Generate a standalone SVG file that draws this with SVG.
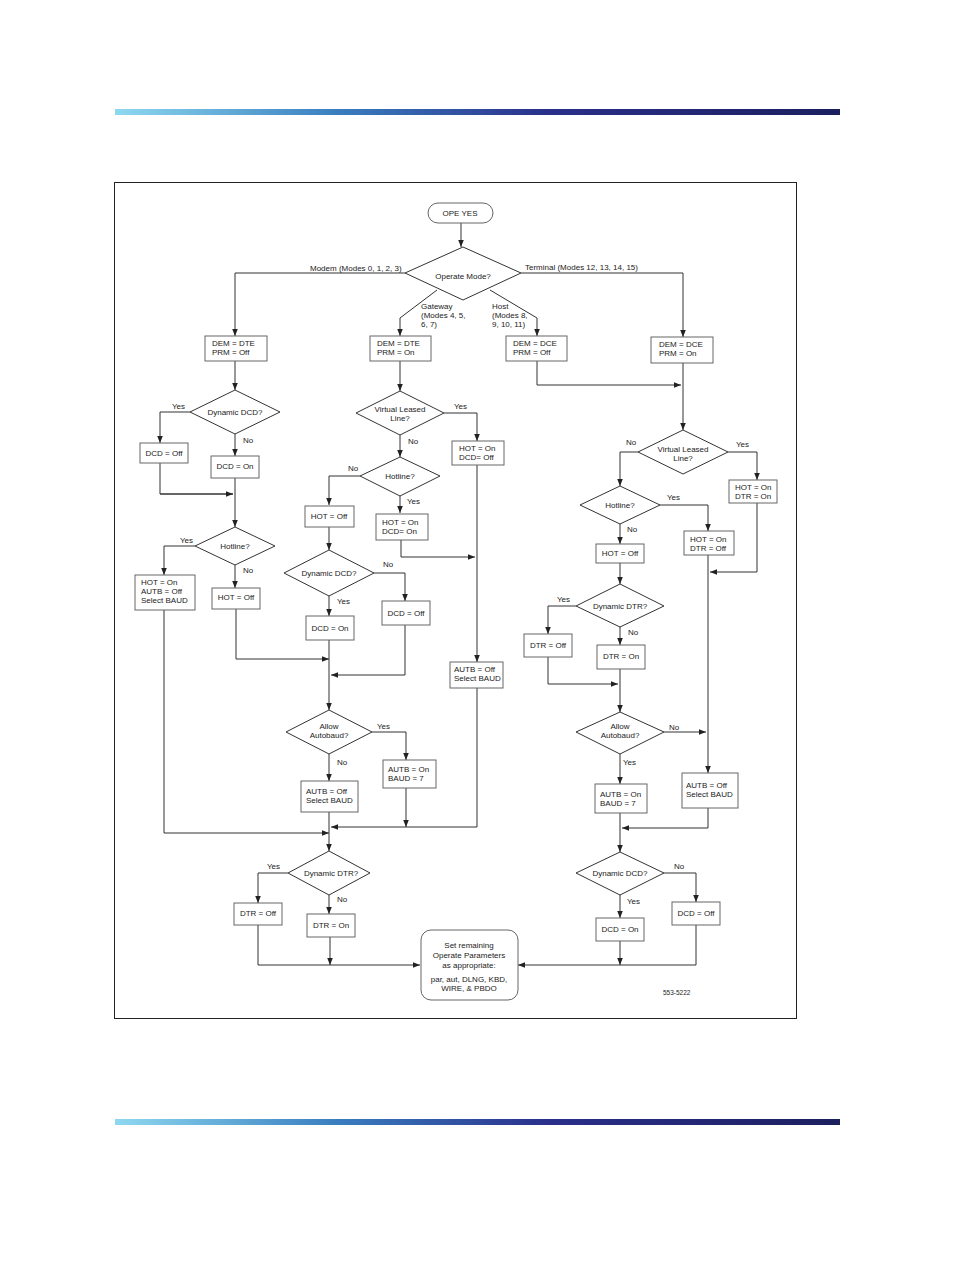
<svg xmlns="http://www.w3.org/2000/svg" width="954" height="1272" viewBox="0 0 954 1272">
<defs>
<linearGradient id="bar" x1="0" x2="1" y1="0" y2="0">
<stop offset="0" stop-color="#8fd8f0"/><stop offset="0.3" stop-color="#3a7fc0"/><stop offset="0.6" stop-color="#2a2f8a"/><stop offset="1" stop-color="#1c1f5e"/>
</linearGradient>
<marker id="ah" viewBox="0 0 10 10" refX="10" refY="5" markerWidth="7" markerHeight="7" orient="auto" markerUnits="userSpaceOnUse"><path d="M0,1 L10,5 L0,9 z" fill="#222"/></marker>
</defs>
<style>
text{font-family:"Liberation Sans",Arial,sans-serif;font-size:8px;fill:#222}
.c{text-anchor:middle}
.b{fill:#fff;stroke:#666;stroke-width:1}
.d{fill:#fff;stroke:#333;stroke-width:1}
#connectors path{fill:none;stroke:#333;stroke-width:1;marker-end:url(#ah)}
#connectors path.n{marker-end:none}
</style>
<rect x="0" y="0" width="954" height="1272" fill="#fff"/>
<rect x="115" y="109" width="725" height="6" fill="url(#bar)"/>
<rect x="115" y="1119" width="725" height="6" fill="url(#bar)"/>
<rect x="114.5" y="182.5" width="682" height="836" fill="none" stroke="#222" stroke-width="1"/>

<g id="connectors">
<path d="M461,223 V247"/>
<path d="M405,273 H235 V336"/>
<path d="M521,273 H683 V337"/>
<path d="M437,290 L400,318 V336"/>
<path d="M490,290 L537,318 V336"/>
<path d="M235,361 V390"/>
<path d="M400,361 V391"/>
<path d="M537,361 V385 H681"/>
<path d="M683,363 V430"/>
<!-- left -->
<path d="M190,412 H160 V443"/>
<path d="M235,434 V456"/>
<path class="n" d="M160,463 V494 H233"/>
<path d="M160,494 H233"/>
<path d="M235,478 V527"/>
<path d="M195,546 H164 V575"/>
<path d="M235,565 V588"/>
<path d="M236,609 V659 H329"/>
<path d="M164,610 V833 H329"/>
<!-- middle -->
<path d="M444,413 H477 V441"/>
<path d="M400,435 V457"/>
<path d="M360,476 H329 V505"/>
<path d="M400,496 V513"/>
<path d="M401,540 V557 H475"/>
<path d="M329,527 V550"/>
<path d="M374,573 H405 V601"/>
<path d="M329,596 V616"/>
<path d="M405,625 V675 H331"/>
<path d="M329,640 V710"/>
<path d="M372,732 H406 V760"/>
<path d="M329,754 V781"/>
<path d="M406,788 V827"/>
<path d="M477,465 V662"/>
<path d="M477,688 V827 H331"/>
<path d="M329,812 V851"/>
<path d="M288,873 H258 V903"/>
<path d="M329,895 V914"/>
<path d="M258,925 V965 H420"/>
<path d="M330,937 V965"/>
<!-- right -->
<path d="M638,452 H620 V486"/>
<path d="M728,452 H757 V480"/>
<path d="M660,505 H708 V531"/>
<path d="M620,524 V544"/>
<path d="M757,503 V572 H710"/>
<path d="M620,563 V584"/>
<path d="M576,606 H548 V634"/>
<path d="M620,627 V645"/>
<path d="M548,657 V684 H618"/>
<path d="M620,669 V712"/>
<path d="M664,732 H706"/>
<path d="M708,555 V773"/>
<path d="M620,754 V784"/>
<path d="M708,808 V828 H622"/>
<path d="M620,813 V852"/>
<path d="M664,873 H696 V902"/>
<path d="M620,895 V918"/>
<path d="M696,925 V965 H518"/>
<path d="M620,941 V965"/>
</g>

<g id="ope"><rect class="b" x="428" y="203" width="65" height="20" rx="10"/><text class="c" x="460" y="216">OPE YES</text></g>
<g id="mode"><polygon class="d" points="463,247 521,273 463,300 405,273"/><text class="c" x="463" y="279">Operate Mode?</text></g>
<g id="lbl-top">
<text x="310" y="271">Modem (Modes 0, 1, 2, 3)</text>
<text x="525" y="270">Terminal (Modes 12, 13, 14, 15)</text>
<text x="421" y="309">Gateway</text><text x="421" y="318">(Modes 4, 5,</text><text x="421" y="327">6, 7)</text>
<text x="492" y="309">Host</text><text x="492" y="318">(Modes 8,</text><text x="492" y="327">9, 10, 11)</text>
</g>
<g id="b1"><rect class="b" x="205" y="336" width="62" height="25"/><text x="212" y="346">DEM = DTE</text><text x="212" y="355">PRM = Off</text></g>
<g id="b2"><rect class="b" x="370" y="336" width="61" height="25"/><text x="377" y="346">DEM = DTE</text><text x="377" y="355">PRM = On</text></g>
<g id="b3"><rect class="b" x="506" y="336" width="61" height="25"/><text x="513" y="346">DEM = DCE</text><text x="513" y="355">PRM = Off</text></g>
<g id="b4"><rect class="b" x="651" y="337" width="62" height="26"/><text x="659" y="347">DEM = DCE</text><text x="659" y="356">PRM = On</text></g>

<!-- left column -->
<g id="l-dcd"><polygon class="d" points="235,390 280,412 235,434 190,412"/><text class="c" x="235" y="415">Dynamic DCD?</text><text x="172" y="409">Yes</text><text x="243" y="443">No</text></g>
<g id="l-dcdoff"><rect class="b" x="140" y="443" width="48" height="20"/><text class="c" x="164" y="456">DCD = Off</text></g>
<g id="l-dcdon"><rect class="b" x="211" y="456" width="48" height="22"/><text class="c" x="235" y="469">DCD = On</text></g>
<g id="l-hot"><polygon class="d" points="235,527 275,546 235,565 195,546"/><text class="c" x="235" y="549">Hotline?</text><text x="180" y="543">Yes</text><text x="243" y="573">No</text></g>
<g id="l-hoton"><rect class="b" x="135" y="575" width="60" height="35"/><text x="141" y="585">HOT = On</text><text x="141" y="594">AUTB = Off</text><text x="141" y="603">Select BAUD</text></g>
<g id="l-hotoff"><rect class="b" x="212" y="588" width="48" height="21"/><text class="c" x="236" y="600">HOT = Off</text></g>

<!-- middle column -->
<g id="m-vll"><polygon class="d" points="400,391 444,413 400,435 356,413"/><text class="c" x="400" y="412">Virtual Leased</text><text class="c" x="400" y="421">Line?</text><text x="454" y="409">Yes</text><text x="408" y="444">No</text></g>
<g id="m-hotdcd"><rect class="b" x="452" y="441" width="52" height="24"/><text x="459" y="451">HOT = On</text><text x="459" y="460">DCD= Off</text></g>
<g id="m-hot"><polygon class="d" points="400,457 440,476 400,496 360,476"/><text class="c" x="400" y="479">Hotline?</text><text x="348" y="471">No</text><text x="407" y="504">Yes</text></g>
<g id="m-hoton"><rect class="b" x="376" y="514" width="52" height="26"/><text x="382" y="525">HOT = On</text><text x="382" y="534">DCD= On</text></g>
<g id="m-hotoff"><rect class="b" x="305" y="506" width="49" height="21"/><text class="c" x="329" y="519">HOT = Off</text></g>
<g id="m-dcd"><polygon class="d" points="329,550 374,573 329,596 284,573"/><text class="c" x="329" y="576">Dynamic DCD?</text><text x="383" y="567">No</text><text x="337" y="604">Yes</text></g>
<g id="m-dcdoff"><rect class="b" x="382" y="601" width="48" height="24"/><text class="c" x="406" y="616">DCD = Off</text></g>
<g id="m-dcdon"><rect class="b" x="306" y="616" width="48" height="24"/><text class="c" x="330" y="631">DCD = On</text></g>
<g id="m-auto"><polygon class="d" points="329,710 372,732 329,754 286,732"/><text class="c" x="329" y="729">Allow</text><text class="c" x="329" y="738">Autobaud?</text><text x="377" y="729">Yes</text><text x="337" y="765">No</text></g>
<g id="m-auton"><rect class="b" x="383" y="760" width="53" height="28"/><text x="388" y="772">AUTB = On</text><text x="388" y="781">BAUD = 7</text></g>
<g id="m-autoff"><rect class="b" x="301" y="781" width="57" height="31"/><text x="306" y="794">AUTB = Off</text><text x="306" y="803">Select BAUD</text></g>
<g id="m-autoff2"><rect class="b" x="450" y="662" width="53" height="26"/><text x="454" y="672">AUTB = Off</text><text x="454" y="681">Select BAUD</text></g>
<g id="m-dtr"><polygon class="d" points="329,851 370,873 329,895 288,873"/><text class="c" x="331" y="876">Dynamic DTR?</text><text x="267" y="869">Yes</text><text x="337" y="902">No</text></g>
<g id="m-dtroff"><rect class="b" x="234" y="903" width="48" height="22"/><text class="c" x="258" y="916">DTR = Off</text></g>
<g id="m-dtron"><rect class="b" x="307" y="914" width="48" height="23"/><text class="c" x="331" y="928">DTR = On</text></g>

<!-- right column -->
<g id="r-vll"><polygon class="d" points="683,430 728,452 683,474 638,452"/><text class="c" x="683" y="452">Virtual Leased</text><text class="c" x="683" y="461">Line?</text><text x="626" y="445">No</text><text x="736" y="447">Yes</text></g>
<g id="r-hotdtr"><rect class="b" x="729" y="480" width="48" height="23"/><text x="735" y="490">HOT = On</text><text x="735" y="499">DTR = On</text></g>
<g id="r-hot"><polygon class="d" points="620,486 660,505 620,524 580,505"/><text class="c" x="620" y="508">Hotline?</text><text x="667" y="500">Yes</text><text x="627" y="532">No</text></g>
<g id="r-hoton"><rect class="b" x="684" y="531" width="50" height="24"/><text x="690" y="542">HOT = On</text><text x="690" y="551">DTR = Off</text></g>
<g id="r-hotoff"><rect class="b" x="596" y="544" width="48" height="19"/><text class="c" x="620" y="556">HOT = Off</text></g>
<g id="r-dtr"><polygon class="d" points="620,584 664,606 620,627 576,606"/><text class="c" x="620" y="609">Dynamic DTR?</text><text x="557" y="602">Yes</text><text x="628" y="635">No</text></g>
<g id="r-dtroff"><rect class="b" x="524" y="634" width="48" height="23"/><text class="c" x="548" y="648">DTR = Off</text></g>
<g id="r-dtron"><rect class="b" x="597" y="645" width="48" height="24"/><text class="c" x="621" y="659">DTR = On</text></g>
<g id="r-auto"><polygon class="d" points="620,712 664,732 620,754 576,732"/><text class="c" x="620" y="729">Allow</text><text class="c" x="620" y="738">Autobaud?</text><text x="669" y="730">No</text><text x="623" y="765">Yes</text></g>
<g id="r-auton"><rect class="b" x="595" y="784" width="52" height="29"/><text x="600" y="797">AUTB = On</text><text x="600" y="806">BAUD = 7</text></g>
<g id="r-autoff"><rect class="b" x="682" y="773" width="56" height="35"/><text x="686" y="788">AUTB = Off</text><text x="686" y="797">Select BAUD</text></g>
<g id="r-dcd"><polygon class="d" points="620,852 664,873 620,895 576,873"/><text class="c" x="620" y="876">Dynamic DCD?</text><text x="674" y="869">No</text><text x="627" y="904">Yes</text></g>
<g id="r-dcdoff"><rect class="b" x="672" y="902" width="48" height="23"/><text class="c" x="696" y="916">DCD = Off</text></g>
<g id="r-dcdon"><rect class="b" x="596" y="918" width="48" height="23"/><text class="c" x="620" y="932">DCD = On</text></g>

<g id="final"><rect class="b" x="421" y="930" width="97" height="70" rx="10"/>
<text class="c" x="469" y="948">Set remaining</text><text class="c" x="469" y="958">Operate Parameters</text><text class="c" x="469" y="968">as appropriate:</text><text class="c" x="469" y="982">par, aut, DLNG, KBD,</text><text class="c" x="469" y="991">WIRE, &amp; PBDO</text></g>
<text x="663" y="995" style="font-size:6.5px">553-5222</text>
</svg>
